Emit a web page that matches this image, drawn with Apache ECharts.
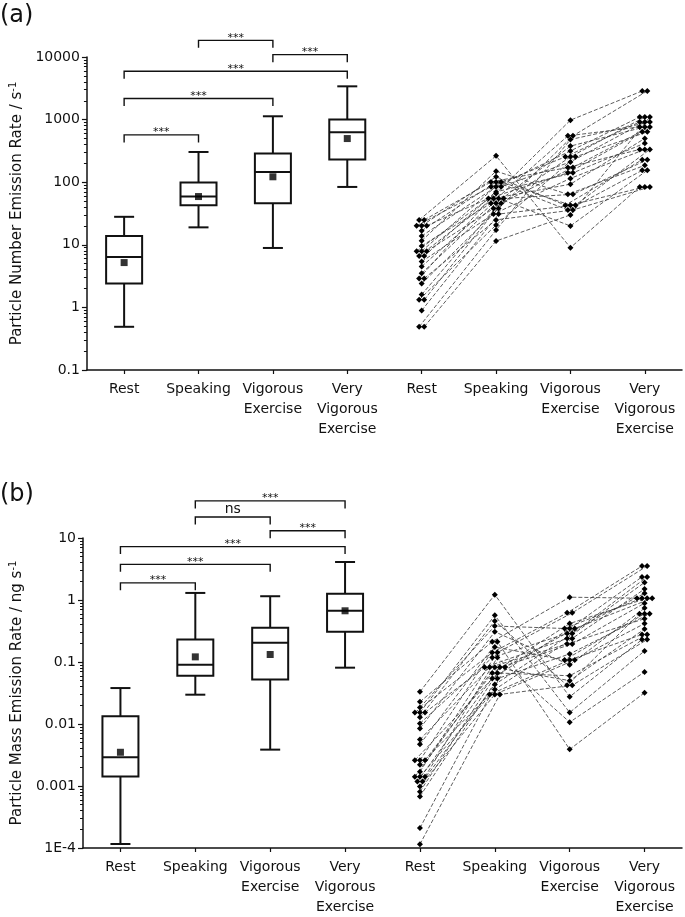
<!DOCTYPE html>
<html><head><meta charset="utf-8">
<script src="https://cdn.jsdelivr.net/npm/echarts@6/dist/echarts.min.js"></script>
<style>html,body{margin:0;padding:0;background:#fff}#c{width:685px;height:917px}</style>
</head><body><div id="c"></div>
<script>
// ---------- DATA ----------
const categories = ['Rest','Speaking','Vigorous\nExercise','Very\nVigorous\nExercise','Rest','Speaking','Vigorous\nExercise','Very\nVigorous\nExercise'];
const yTickLabelsA = ['0.1','1','10','100','1000','10000'];
const yTickLabelsB = ['1E-4','0.001','0.01','0.1','1','10'];

// Box statistics [min, Q1, median, Q3, max] per activity
const boxRestA = [0.49, 2.4, 6.4, 13.8, 28];
const boxSpeakA = [19, 43, 59, 99, 304];
const boxVigA = [8.9, 46, 146, 287, 1130];
const boxVeryA = [84, 230, 627, 1000, 3400];
const meanA = [5.2, 59, 122, 498];

const boxRestB = [0.000116, 0.00142, 0.0029, 0.0133, 0.038];
const boxSpeakB = [0.0297, 0.06, 0.09, 0.23, 1.3];
const boxVigB = [0.00386, 0.052, 0.205, 0.356, 1.15];
const boxVeryB = [0.081, 0.307, 0.67, 1.26, 4.1];
const meanB = [0.0035, 0.121, 0.132, 0.67];

// Individual subjects (same order in each array)
const restA  = [24.9,24.9,20.2,20.2,20.2,16.8,13.8,11.6,9.6,7.9,7.9,7.9,6.6,6.6,5.4,4.5,3.5,2.9,2.9,2.4,1.6,1.32,1.32,0.89,0.49,0.49];
const speakA = [264,101,84.5,122,55,101,84.5,150,46,66,101,38,55,84.5,31,55,46,70,25,38,55,20.7,46,31,17.2,11.5];
const vigA   = [9.0,172,254,43,141,36,316,64,550,980,43,254,93,211,115,20,377,141,36,550,64,254,172,43,480,30];
const veryA  = [84,334,918,229,637,155,1100,186,765,2870,84,1100,500,918,334,155,765,420,84,2870,229,637,765,334,918,1100];

const restB  = [0.033,0.0228,0.0185,0.0153,0.0153,0.0153,0.0128,0.0102,0.0085,0.0056,0.0047,0.0026,0.0026,0.0026,0.0022,0.0017,0.00141,0.00141,0.00141,0.00118,0.00118,0.00098,0.00081,0.00068,0.00021,0.000115];
const speakB = [1.22,0.213,0.38,0.142,0.565,0.082,0.46,0.118,0.307,0.082,0.213,0.054,0.174,0.0665,0.030,0.142,0.082,0.036,0.118,0.082,0.0434,0.030,0.0665,0.054,0.082,0.030];
const vigB   = [0.0275,1.11,0.347,0.62,0.0153,0.24,0.042,0.288,0.09,0.195,0.0039,0.347,0.108,0.417,0.108,0.62,0.05,0.24,0.0107,0.195,0.288,0.108,0.06,0.135,0.347,0.042];
const veryB  = [0.23,1.07,1.07,3.53,0.151,1.92,0.60,1.28,0.74,0.50,0.032,2.36,0.60,1.07,0.278,3.53,0.34,1.5,0.069,0.89,2.36,0.417,0.278,0.60,1.07,0.23];

// Significance brackets: [from category, to category], level (data units), label
const bracketPairsA = [[0,1],[0,2],[0,3],[1,2],[2,3]];
const bracketLevelsA = [570, 2170, 5910, 18450, 10900];
const bracketLabelsA = ['***','***','***','***','***'];
const bracketPairsB = [[1,3],[1,2],[2,3],[0,3],[0,2],[0,1]];
const bracketLevelsB = [39.7, 21.8, 13.1, 7.26, 3.76, 1.89];
const bracketLabelsB = ['***','ns','***','***','***','***'];

// ---------- CHART ----------
const FONT = 'DejaVu Sans';
const INK = '#111';
const chart = echarts.init(document.getElementById('c'), null, {renderer:'canvas'});

function renderBox(params, api){
  const x = api.value(0);
  const pMin = api.coord([x, api.value(1)]);
  const pQ1 = api.coord([x, api.value(2)]);
  const pMed = api.coord([x, api.value(3)]);
  const pQ3 = api.coord([x, api.value(4)]);
  const pMax = api.coord([x, api.value(5)]);
  const cx = pMin[0], hw = 18, cw = 10;
  const st = {stroke:INK, lineWidth:2};
  return {type:'group', children:[
    {type:'line', shape:{x1:cx,y1:pMax[1],x2:cx,y2:pQ3[1]}, style:st},
    {type:'line', shape:{x1:cx,y1:pQ1[1],x2:cx,y2:pMin[1]}, style:st},
    {type:'line', shape:{x1:cx-cw,y1:pMax[1],x2:cx+cw,y2:pMax[1]}, style:st},
    {type:'line', shape:{x1:cx-cw,y1:pMin[1],x2:cx+cw,y2:pMin[1]}, style:st},
    {type:'rect', shape:{x:cx-hw,y:pQ3[1],width:2*hw,height:pQ1[1]-pQ3[1]}, style:{stroke:INK,lineWidth:2,fill:'transparent'}},
    {type:'line', shape:{x1:cx-hw,y1:pMed[1],x2:cx+hw,y2:pMed[1]}, style:st}
  ]};
}

function makeBracketRender(labels){
  return function(params, api){
    const y = api.value(2);
    const p1 = api.coord([api.value(0), y]);
    const p2 = api.coord([api.value(1), y]);
    const drop = 7.5;
    const lbl = labels[params.dataIndex];
    const isText = lbl !== '***';
    return {type:'group', children:[
      {type:'polyline', shape:{points:[[p1[0],p1[1]+drop],[p1[0],p1[1]],[p2[0],p2[1]],[p2[0],p2[1]+drop]]},
       style:{stroke:INK, lineWidth:1.4, fill:'none'}},
      {type:'text', x:(p1[0]+p2[0])/2, y:p1[1] + (isText ? -1 : 3),
       style:{text:lbl, fill:INK, fontFamily:FONT, fontSize:isText?14:11, align:'center', verticalAlign:'bottom'}}
    ]};
  };
}

function jitter(values, col){
  // spread identical values side by side
  const dx = 0.068;
  const groups = {};
  values.forEach((v,i)=>{ (groups[v] = groups[v] || []).push(i); });
  const out = new Array(values.length);
  Object.keys(groups).forEach(k=>{
    const idx = groups[k], n = idx.length;
    idx.forEach((i,j)=>{ out[i] = col + (j-(n-1)/2)*dx; });
  });
  return out;
}

function subjectSeries(cols, xAxisIndex, yAxisIndex){
  const xs = cols.map((c,ci)=>jitter(c, 4+ci));
  const series = [];
  for (let s=0; s<cols[0].length; s++){
    series.push({
      type:'line', xAxisIndex, yAxisIndex, clip:false, silent:true,
      data: cols.map((c,ci)=>[xs[ci][s], c[s]]),
      symbol:'diamond', symbolSize:6,
      itemStyle:{color:'#000'},
      lineStyle:{color:'#333', width:0.8, type:[4,2]},
      z:3
    });
  }
  return series;
}

function yAxisCfg(grid, min, max, labels, nameRich){
  return {
    type:'log', logBase:10, gridIndex:grid, min, max,
    axisLine:{show:true, onZero:false, lineStyle:{color:INK, width:1.5}},
    axisTick:{show:true, length:5, lineStyle:{color:INK, width:1.2}},
    minorTick:{show:true, splitNumber:9, length:3, lineStyle:{color:INK, width:1}},
    splitLine:{show:false},
    axisLabel:{fontFamily:FONT, fontSize:14, color:INK, margin:7,
      formatter:(v)=>labels[Math.round(Math.log10(v)-Math.log10(min))]},
    name:nameRich, nameLocation:'middle', nameGap:56,
    nameTextStyle:{fontFamily:FONT, color:INK,
      rich:{n:{fontFamily:FONT, fontSize:15, lineHeight:18, color:INK},
            s:{fontFamily:FONT, fontSize:10, lineHeight:10, verticalAlign:'top', color:INK}}}
  };
}

function xCatCfg(grid){
  return {
    type:'category', gridIndex:grid, data:categories, boundaryGap:true,
    axisLine:{show:true, onZero:false, lineStyle:{color:INK, width:1.5}},
    axisTick:{show:true, alignWithLabel:true, length:4, lineStyle:{color:INK, width:1.2}},
    axisLabel:{interval:0, fontFamily:FONT, fontSize:14, lineHeight:20, color:INK, margin:9},
    splitLine:{show:false}
  };
}
function xValCfg(grid){
  return {type:'value', gridIndex:grid, min:-0.5, max:7.5, show:false, axisLine:{onZero:false}, splitLine:{show:false}};
}

const boxesA = [boxRestA, boxSpeakA, boxVigA, boxVeryA];
const boxesB = [boxRestB, boxSpeakB, boxVigB, boxVeryB];

const option = {
  animation:false,
  backgroundColor:'#fff',
  title:[
    {text:'(a)', left:0, top:4, padding:0, textStyle:{fontFamily:FONT, fontSize:24, fontWeight:'normal', color:INK}},
    {text:'(b)', left:0, top:483, padding:0, textStyle:{fontFamily:FONT, fontSize:24, fontWeight:'normal', color:INK}}
  ],
  grid:[
    {left:83, top:57, width:599, height:313},
    {left:83, top:538, width:599, height:314}
  ],
  xAxis:[xCatCfg(0), xValCfg(0), xCatCfg(1), xValCfg(1)],
  yAxis:[
    yAxisCfg(0, 0.1, 10000, yTickLabelsA, '{n|Particle Number Emission Rate / s}{s|-1}'),
    yAxisCfg(1, 0.0001, 10, yTickLabelsB, '{n|Particle Mass Emission Rate / ng s}{s|-1}')
  ],
  series:[
    {type:'custom', xAxisIndex:0, yAxisIndex:0, renderItem:renderBox, clip:false, silent:true,
     encode:{x:0, y:[1,2,3,4,5]}, data:boxesA.map((b,i)=>[i].concat(b)), z:2},
    {type:'scatter', xAxisIndex:0, yAxisIndex:0, symbol:'rect', symbolSize:7, itemStyle:{color:'#000'},
     data:meanA.map((m,i)=>[i,m]), z:4},
    {type:'custom', xAxisIndex:0, yAxisIndex:0, renderItem:makeBracketRender(bracketLabelsA), clip:false, silent:true,
     encode:{x:[0,1], y:2}, data:bracketPairsA.map((p,i)=>[p[0],p[1],bracketLevelsA[i]]), z:2},
    {type:'custom', xAxisIndex:2, yAxisIndex:1, renderItem:renderBox, clip:false, silent:true,
     encode:{x:0, y:[1,2,3,4,5]}, data:boxesB.map((b,i)=>[i].concat(b)), z:2},
    {type:'scatter', xAxisIndex:2, yAxisIndex:1, symbol:'rect', symbolSize:7, itemStyle:{color:'#000'},
     data:meanB.map((m,i)=>[i,m]), z:4},
    {type:'custom', xAxisIndex:2, yAxisIndex:1, renderItem:makeBracketRender(bracketLabelsB), clip:false, silent:true,
     encode:{x:[0,1], y:2}, data:bracketPairsB.map((p,i)=>[p[0],p[1],bracketLevelsB[i]]), z:2}
  ]
    .concat(subjectSeries([restA, speakA, vigA, veryA], 1, 0))
    .concat(subjectSeries([restB, speakB, vigB, veryB], 3, 1))
};
chart.setOption(option);
</script>
</body></html>
